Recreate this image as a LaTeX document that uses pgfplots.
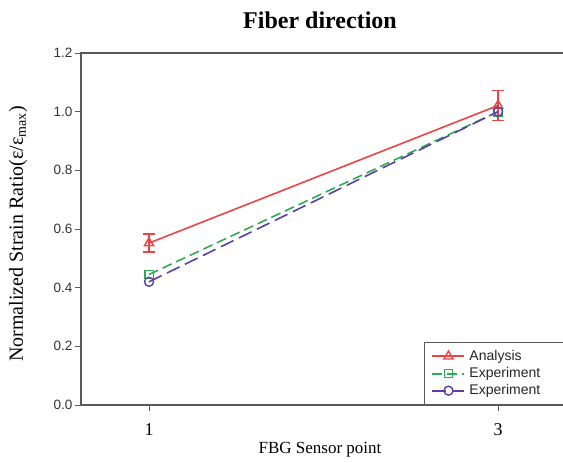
\documentclass[border=0pt]{standalone}
\usepackage{pgfplots}
\pgfplotsset{compat=1.18}
\usepackage{fontspec}
\setmainfont{Liberation Serif}
\newfontfamily\arial{Liberation Sans}
\definecolor{cred}{RGB}{235,68,68}
\definecolor{cgreen}{RGB}{46,172,84}
\definecolor{cpurp}{RGB}{90,64,165}
\begin{document}
\begin{tikzpicture}[x=1pt,y=1pt]
\path[use as bounding box] (0pt,0pt) rectangle (563pt,463pt);
\begin{scope}
\clip (0pt,0pt) rectangle (563pt,463pt);
\begin{axis}[
  at={(81pt,58pt)}, anchor=south west,
  scale only axis, width=490pt, height=352pt,
  xmin=0.6103, xmax=3.418, ymin=0, ymax=1.2,
  axis line style={gray!70!black, line width=1.1pt},
  xtick={1,3}, ytick={0,0.2,...,1.2},
  tick align=outside, tick style={gray!70!black, line width=0.9pt},
  major tick length=6pt,
  xtick pos=bottom, ytick pos=left,
  yticklabel style={font=\arial\fontsize{13.5}{15}\selectfont, text=gray!40!black, xshift=1pt},
  xticklabel style={font=\rmfamily\fontsize{18}{20}\selectfont, yshift=-9pt},
  /pgf/number format/assume math mode=true,
  yticklabel={\pgfmathprintnumber[fixed,fixed zerofill,precision=1]{\tick}},
  legend style={at={(0.70,0)}, anchor=south west, draw=gray!70!black, line width=1pt,
    font=\arial\fontsize{14}{16}\selectfont, text=gray!30!black,
    row sep=1.5pt, inner xsep=7pt, inner ysep=6pt,
    nodes={inner xsep=4pt}},
  legend cell align=left,
  legend image code/.code={\draw[#1, mark repeat=2, mark phase=2] plot coordinates {(0pt,0pt) (16pt,0pt) (32pt,0pt)};},
  legend image post style={line width=2pt},
]
\addplot[cred, line width=1.6pt, mark=triangle, mark size=5.3pt, mark options={solid, line width=1.4pt},
  error bars/.cd, y dir=both, y explicit, error bar style={line width=1.6pt}, error mark options={rotate=90, mark size=6pt, line width=1.6pt}]
  coordinates {(1,0.552) +- (0,0.031) (3,1.021) +- (0,0.051)};
\addlegendentry{\makebox[100pt][l]{Analysis}}
\addplot[cgreen, line width=1.6pt, dash pattern=on 10pt off 5pt, mark=square, mark size=4.2pt, mark options={solid, line width=1.4pt}]
  coordinates {(1,0.445) (3,1.0)};
\addlegendentry{Experiment}
\addplot[cpurp, line width=1.6pt, dash pattern=on 14pt off 6pt, mark=o, mark size=4.5pt, mark options={solid, line width=1.4pt}]
  coordinates {(1,0.42) (3,1.0)};
\addlegendentry{Experiment}
\end{axis}
\end{scope}
\node at (320pt,443pt) {\fontsize{24}{28}\selectfont\bfseries Fiber direction};
\node at (320pt,13pt) {\fontsize{17}{20}\selectfont FBG Sensor point};
\node[rotate=90] at (18pt,229pt) {\fontsize{20}{24}\selectfont Normalized Strain Ratio(ε/ε\textsubscript{max})};
\end{tikzpicture}
\end{document}
